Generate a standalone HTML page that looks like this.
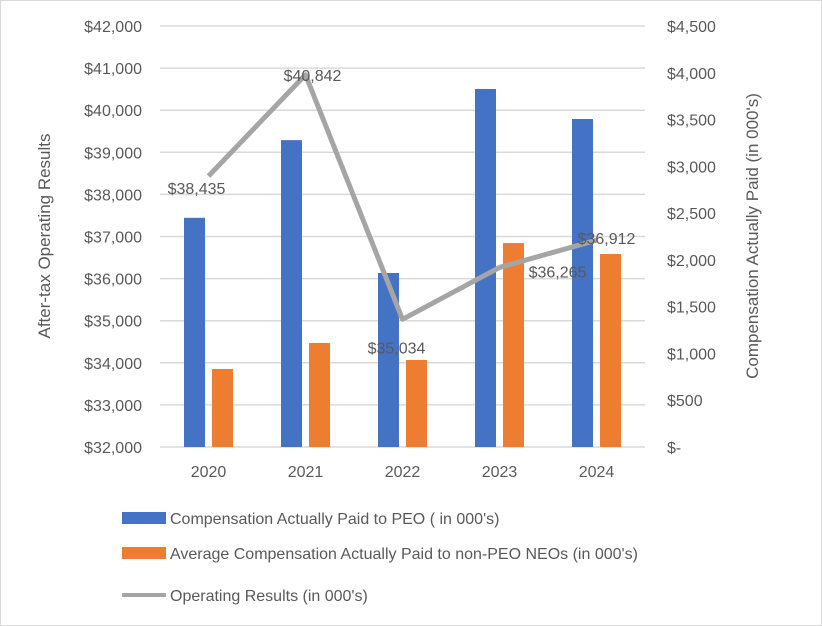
<!DOCTYPE html>
<html><head><meta charset="utf-8"><style>
body{margin:0;background:#fff;}
svg{display:block;font-family:"Liberation Sans",Arial,sans-serif;}
</style></head><body>
<svg id="chart" width="822" height="626">
<rect x="0.5" y="0.5" width="821" height="625" fill="#fff" stroke="#d9d9d9"/>
<g id="grid"></g><g id="bars"></g><g id="line"></g><g id="labels"></g>
<text transform="translate(50,236) rotate(-90)" text-anchor="middle" font-size="17" fill="#595959">After-tax Operating Results</text>
<text transform="translate(758,236) rotate(-90)" text-anchor="middle" font-size="17" fill="#595959">Compensation Actually Paid (in 000's)</text>
<g>
<rect x="122" y="512" width="44" height="12" fill="#4472c4"/>
<text x="170" y="524" font-size="16" fill="#595959">Compensation Actually Paid to PEO ( in 000's)</text>
<rect x="122" y="547" width="44" height="12" fill="#ed7d31"/>
<text x="170" y="559" font-size="16" fill="#595959">Average Compensation Actually Paid to non-PEO NEOs  (in 000's)</text>
<line x1="122" y1="595" x2="166" y2="595" stroke="#a5a5a5" stroke-width="4"/>
<text x="170" y="601" font-size="16" fill="#595959">Operating Results (in 000's)</text>
</g>
</svg>
<script>
const categories=["2020","2021","2022","2023","2024"];
const peoValues=[2450,3280,1860,3827,3506];
const neoValues=[834,1112,930,2180,2063];
const operatingValues=[38435,40842,35034,36265,36912];
const operatingLabels=["$38,435","$40,842","$35,034","$36,265","$36,912"];
const leftTicks=["$32,000","$33,000","$34,000","$35,000","$36,000","$37,000","$38,000","$39,000","$40,000","$41,000","$42,000"];
const rightTicks=["$-","$500","$1,000","$1,500","$2,000","$2,500","$3,000","$3,500","$4,000","$4,500"];
const NS="http://www.w3.org/2000/svg";
const X0=160,X1=645,Y0=447,Y1=26;
const bw=(X1-X0)/categories.length;
const yL=v=>Y0-(v-32000)/10000*(Y0-Y1);
const yR=v=>Y0-v/4500*(Y0-Y1);
const xC=i=>X0+bw*(i+0.5);
function mk(tag,attrs,parent){const e=document.createElementNS(NS,tag);for(const k in attrs)e.setAttribute(k,attrs[k]);document.getElementById(parent).appendChild(e);return e;}
leftTicks.forEach((t,i)=>{const y=yL(32000+i*1000);
 const g=mk('line',{x1:X0,x2:X1,y1:y,y2:y,stroke:'#d9d9d9','stroke-width':1.5},'grid');
 
 
 const tx=mk('text',{x:142,y:y+6,'text-anchor':'end','font-size':16,fill:'#595959'},'grid');tx.textContent=t;
 
 });
rightTicks.forEach((t,i)=>{const y=yR(i*500);
 const tx=mk('text',{x:667,y:y+6,'font-size':16,fill:'#595959'},'grid');tx.textContent=t;
 
 });
categories.forEach((c,i)=>{const cx=xC(i);
 const tx=mk('text',{x:cx,y:477,'text-anchor':'middle','font-size':16,fill:'#595959'},'grid');tx.textContent=c;
 
 
 const b=mk('rect',{x:cx-24.5,y:yR(peoValues[i]),width:21,height:Y0-yR(peoValues[i]),fill:'#4472c4'},'bars');
 
 
 const o=mk('rect',{x:cx+3.5,y:yR(neoValues[i]),width:21,height:Y0-yR(neoValues[i]),fill:'#ed7d31'},'bars');
 
 });
const pts=operatingValues.map((v,i)=>xC(i)+','+yL(v)).join(' ');
const pl=mk('polyline',{points:pts,fill:'none',stroke:'#a5a5a5','stroke-width':5,'stroke-linejoin':'round'},'line');


const offs=[[-12,12],[7,0],[-6,28],[58,4],[10,-2]];
operatingValues.forEach((v,i)=>{
 const tx=mk('text',{x:xC(i)+offs[i][0],y:yL(v)+offs[i][1]+6,'text-anchor':'middle','font-size':16,fill:'#595959'},'labels');
 tx.textContent=operatingLabels[i];
 
 });
</script>
</body></html>
